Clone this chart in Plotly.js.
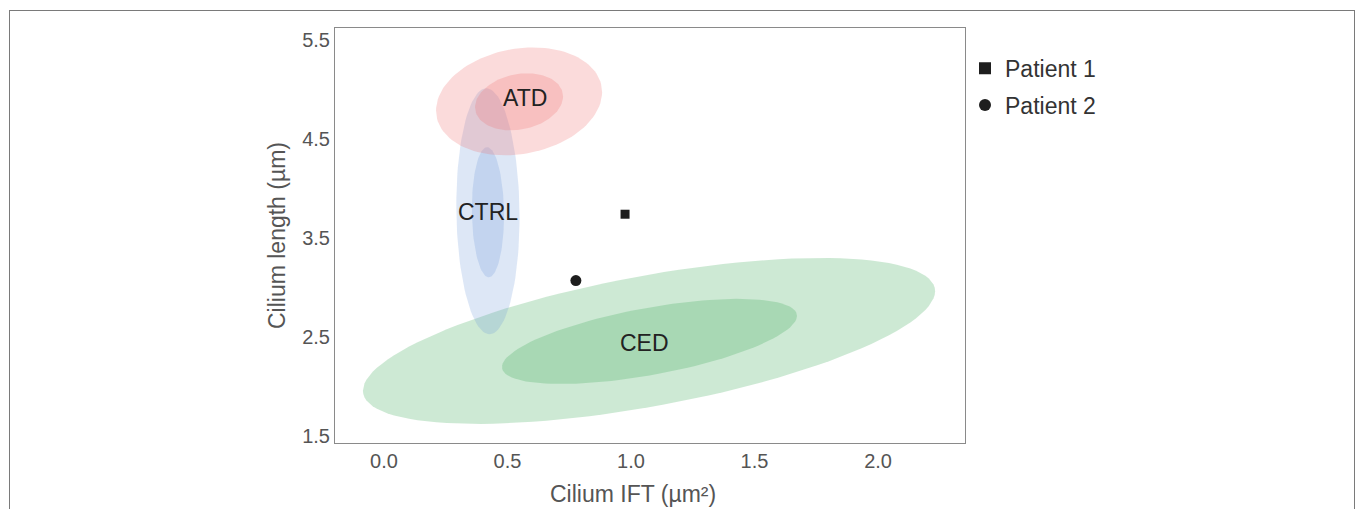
<!DOCTYPE html>
<html>
<head>
<meta charset="utf-8">
<script src="https://cdn.plot.ly/plotly-3.0.1.min.js"></script>
<style>
  html, body { margin: 0; padding: 0; background: #fff; }
  #wrap { position: relative; width: 1355px; height: 509px; overflow: hidden; }
  #chart { position: absolute; left: 0; top: 0; width: 1355px; height: 509px; }
  #frame { position: absolute; left: 9px; top: 10px; width: 1344px; height: 520px;
           border: 1.5px solid #7a7a7a; border-bottom: none; pointer-events: none; }
</style>
</head>
<body>
<div id="wrap"><div id="chart"></div><div id="frame"></div></div>
<script>
// Groups (ellipses): center, half extents, correlation
const groups      = ['ATD', 'ATD', 'CTRL', 'CTRL', 'CED', 'CED'];
const ellLevel    = ['outer', 'inner', 'outer', 'inner', 'outer', 'inner'];
const ellCx       = [0.547, 0.547, 0.421, 0.421, 1.073, 1.075];
const ellCy       = [4.88, 4.875, 3.77, 3.76, 2.46, 2.455];
const ellHx       = [0.336, 0.178, 0.128, 0.065, 1.158, 0.597];
const ellHy       = [0.545, 0.288, 1.242, 0.657, 0.838, 0.43];
const ellR        = [0.17, 0.19, -0.05, -0.05, 0.6, 0.6];

// Group labels
const labelText = ['ATD', 'CTRL', 'CED'];
const labelX    = [0.571, 0.421, 1.053];
const labelY    = [4.91, 3.76, 2.44];

// Patients
const patientNames = ['Patient 1', 'Patient 2'];
const patientX     = [0.976, 0.777];
const patientY     = [3.74, 3.07];
const patientSym   = ['square', 'circle'];

// Axis ticks and titles
const xTicks = [0, 0.5, 1, 1.5, 2];
const xTickText = ['0.0', '0.5', '1.0', '1.5', '2.0'];
const yTicks = [1.5, 2.5, 3.5, 4.5, 5.5];
const yTickText = ['1.5', '2.5', '3.5', '4.5', '5.5'];
const xTitle = 'Cilium IFT (µm²)';
const yTitle = 'Cilium length (µm)';

const groupColor = {
  ATD: 'rgba(240,110,110,0.25)',
  CTRL: 'rgba(110,150,215,0.23)',
  CED: 'rgba(60,170,90,0.26)'
};

function ellipsePts(cx, cy, hx, hy, r) {
  const xs = [], ys = [];
  const n = 120, s = Math.sqrt(1 - r * r);
  for (let i = 0; i <= n; i++) {
    const t = 2 * Math.PI * i / n;
    xs.push(cx + hx * Math.cos(t));
    ys.push(cy + hy * (r * Math.cos(t) + s * Math.sin(t)));
  }
  return {xs, ys};
}

const traces = [];
// draw order: CED, CTRL, ATD (outer then inner)
const order = [4, 5, 2, 3, 0, 1];
order.forEach(i => {
  const p = ellipsePts(ellCx[i], ellCy[i], ellHx[i], ellHy[i], ellR[i]);
  traces.push({
    x: p.xs, y: p.ys, type: 'scatter', mode: 'lines',
    fill: 'toself', fillcolor: groupColor[groups[i]],
    line: {width: 0, color: 'rgba(0,0,0,0)'},
    hoverinfo: 'skip', showlegend: false,
    name: groups[i] + ' ' + ellLevel[i]
  });
});

patientNames.forEach((nm, i) => {
  traces.push({
    x: [patientX[i]], y: [patientY[i]], type: 'scatter', mode: 'markers',
    name: nm, legendgroup: 'g' + i,
    marker: {symbol: patientSym[i], size: patientSym[i] === 'square' ? 9 : 11, color: '#1e1e1e'}
  });
});

const FONT = 'Liberation Sans, Arial, sans-serif';
const annotations = labelText.map((t, i) => ({
  x: labelX[i], y: labelY[i], xref: 'x', yref: 'y', text: t, showarrow: false,
  font: {family: FONT, size: 23, color: '#222'}
}));
annotations.push({
  x: 0.473, y: -0.123, xref: 'paper', yref: 'paper', xanchor: 'center', yanchor: 'middle',
  text: xTitle, showarrow: false, font: {family: FONT, size: 23, color: '#555'}
});

const layout = {
  width: 1355, height: 509,
  margin: {l: 335, r: 390, t: 28, b: 66, pad: 0},
  paper_bgcolor: '#fff', plot_bgcolor: '#fff',
  font: {family: FONT, color: '#555'},
  showlegend: true,
  legend: {
    x: 1.0, y: 0.955, xanchor: 'left', yanchor: 'top',
    font: {size: 23, color: '#333'}, tracegroupgap: 4,
    itemsizing: 'constant', traceorder: 'grouped',
    bgcolor: 'rgba(0,0,0,0)'
  },
  xaxis: {
    range: [-0.198, 2.352], tickvals: xTicks, ticktext: xTickText,
    showgrid: false, zeroline: false, showline: true, mirror: true,
    linecolor: '#8a8a8a', linewidth: 1, ticks: '',
    tickfont: {size: 20, color: '#555'}
  },
  yaxis: {
    range: [1.429, 5.621], tickvals: yTicks, ticktext: yTickText,
    showgrid: false, zeroline: false, showline: true, mirror: true,
    linecolor: '#8a8a8a', linewidth: 1, ticks: '',
    tickfont: {size: 20, color: '#555'},
    title: {text: yTitle, font: {size: 23, color: '#555'}, standoff: 10}
  },
  annotations: annotations
};

Plotly.newPlot('chart', traces, layout, {staticPlot: true, displayModeBar: false});
</script>
</body>
</html>
